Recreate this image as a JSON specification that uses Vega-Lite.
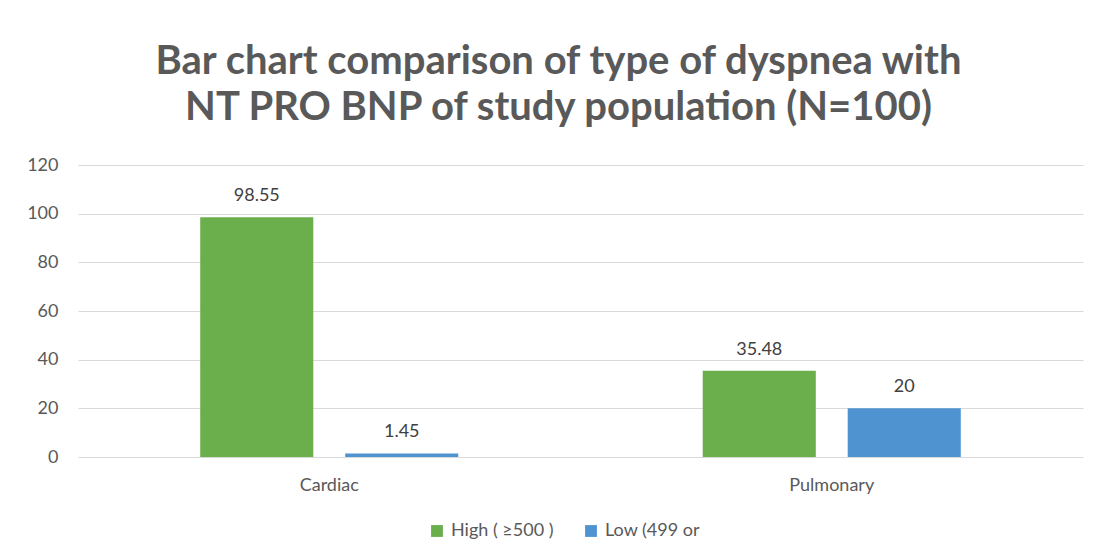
{
  "$schema": "https://vega.github.io/schema/vega-lite/v6.json",
  "autosize": {"type": "none"},
  "width": 1005,
  "height": 292,
  "padding": {"left": 78, "top": 165, "right": 14, "bottom": 101},
  "background": "white",
  "title": {
    "text": ["Bar chart comparison of type of dyspnea with", "NT PRO BNP of study population (N=100)"],
    "font": "Lato",
    "fontSize": 40,
    "fontWeight": "bold",
    "color": "#595959",
    "lineHeight": 46,
    "anchor": "middle",
    "dx": -22,
    "offset": 28
  },
  "data": {
    "values": [
      {"type": "Cardiac", "level": "High ( ≥500 )", "value": 98.55},
      {"type": "Cardiac", "level": "Low (499 or", "value": 1.45},
      {"type": "Pulmonary", "level": "High ( ≥500 )", "value": 35.48},
      {"type": "Pulmonary", "level": "Low (499 or", "value": 20}
    ]
  },
  "encoding": {
    "x": {
      "field": "type",
      "type": "nominal",
      "scale": {"paddingInner": 0, "paddingOuter": 0},
      "axis": {
        "title": null,
        "labelAngle": 0,
        "labelFont": "Lato",
        "labelFontSize": 18,
        "labelColor": "#595959",
        "domain": false,
        "ticks": false,
        "labelPadding": 19
      }
    },
    "xOffset": {
      "field": "level",
      "type": "nominal",
      "scale": {"paddingInner": 0.22, "paddingOuter": 0.843}
    },
    "y": {
      "field": "value",
      "type": "quantitative",
      "scale": {"domain": [0, 120]},
      "axis": {
        "title": null,
        "values": [0, 20, 40, 60, 80, 100, 120],
        "labelOverlap": false,
        "labelFont": "Lato",
        "labelFontSize": 18,
        "labelColor": "#595959",
        "domain": false,
        "ticks": false,
        "labelPadding": 20,
        "gridColor": "#d9d9d9",
        "gridWidth": 1.2
      }
    }
  },
  "layer": [
    {
      "mark": {"type": "bar"},
      "encoding": {
        "color": {
          "field": "level",
          "type": "nominal",
          "scale": {"domain": ["High ( ≥500 )", "Low (499 or"], "range": ["#6aaf4c", "#4f94d1"]},
          "legend": {
            "title": null,
            "orient": "none",
            "direction": "horizontal",
            "legendX": 350,
            "legendY": 357,
            "symbolType": "square",
            "symbolSize": 140,
            "symbolStrokeWidth": 0,
            "labelFont": "Lato",
            "labelFontSize": 18,
            "labelColor": "#595959",
            "columnPadding": 28,
            "labelOffset": 5
          }
        }
      }
    },
    {
      "mark": {"type": "text", "baseline": "bottom", "dy": -12, "font": "Lato", "fontSize": 18, "color": "#404040"},
      "encoding": {
        "text": {"field": "value", "type": "quantitative"}
      }
    }
  ],
  "config": {"view": {"stroke": null}}
}
